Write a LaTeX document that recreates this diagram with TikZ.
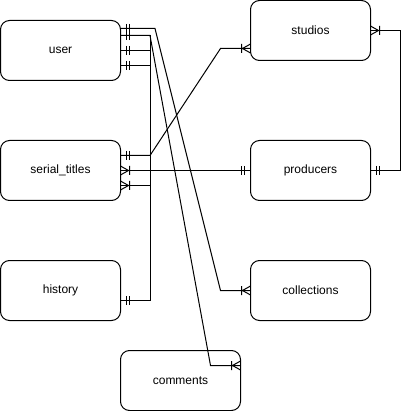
\documentclass[tikz,border=0pt]{standalone}
\usepackage{fontspec}
\setmainfont{Liberation Sans}
\usepackage{tikz}
\usetikzlibrary{positioning}

\begin{document}
\begin{tikzpicture}[
    x=1pt, y=-1pt,
    line width=1pt,
    node distance=60pt and 130pt,
    entity/.style={rectangle, draw, outer sep=0pt, rounded corners=9pt, minimum height=60pt, minimum width=120pt, font=\fontsize{12}{14}\selectfont},
    mandone/.pic={\draw (6,-4.5) -- (6,4.5) (9,-4.5) -- (9,4.5);},
    onemany/.pic={\draw (0,-4.5) -- (8,0) -- (0,4.5) (9,-4.5) -- (9,4.5);}
]
\useasboundingbox (0,0) rectangle (410,411);

% Nodes
\node (user)        [entity] at (60.5,50.5)        {user};
\node (serial)      [entity, below=of user]        {serial\_titles};
\node (history)     [entity, below=of serial]      {history};
\node (studios)     [entity] at (310.5,30.5)       {studios};
\node (producers)   [entity, below=80pt of studios] {producers};
\node (collections) [entity, below=of producers]   {collections};
\node (comments)    [entity] at (180.5,380.5)      {comments};

% Connectors
\draw ([yshift=22pt]user.east) -- ++(34.5,0) -- ([xshift=-30pt]collections.west) -- (collections.west);
\draw ([yshift=15pt]user.east) -- ++(29.5,0) -- ([xshift=-30pt,yshift=15pt]comments.east) -- ([yshift=15pt]comments.east);
\draw ([yshift=15pt]user.east) -- ++(29.5,0) |- ([yshift=-10pt]history.east);
\draw (user.east) -- ++(29.5,0) |- ([yshift=-15pt]serial.east);
\draw ([yshift=-15pt]user.east) -- ++(29.5,0) |- ([yshift=-10pt]history.east);
\draw ([yshift=15pt]serial.east) -- ++(29.5,0) -- ([xshift=-30pt,yshift=-18pt]studios.west) -- ([yshift=-18pt]studios.west);
\draw (serial.east) -- (producers.west);
\draw (studios.east) -- ++(30,0) |- (producers.east);

% Markers
\pic at ([yshift=22pt]user.east) {mandone};
\pic at ([yshift=15pt]user.east) {mandone};
\pic at (user.east) {mandone};
\pic at ([yshift=-15pt]user.east) {mandone};
\pic at ([yshift=15pt]serial.east) {mandone};
\pic at (serial.east) {onemany};
\pic at ([yshift=-15pt]serial.east) {onemany};
\pic at ([yshift=-10pt]history.east) {mandone};
\pic[rotate=180] at ([yshift=-18pt]studios.west) {onemany};
\pic[rotate=180] at (producers.west) {mandone};
\pic[rotate=180] at (collections.west) {onemany};
\pic[rotate=180] at ([yshift=15pt]comments.east) {onemany};
\pic at (studios.east) {onemany};
\pic at (producers.east) {mandone};

\end{tikzpicture}
\end{document}
